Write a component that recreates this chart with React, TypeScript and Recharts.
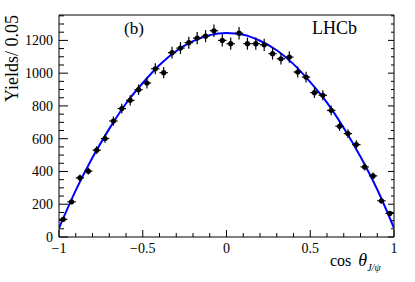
import React from 'react';
import {
  ComposedChart,
  Line,
  Scatter,
  ErrorBar,
  XAxis,
  YAxis,
} from 'recharts';

// bin centres of cos(theta_J/psi), bin width 0.05
const binCenters = [
  -0.975, -0.925, -0.875, -0.825, -0.775, -0.725, -0.675, -0.625, -0.575, -0.525,
  -0.475, -0.425, -0.375, -0.325, -0.275, -0.225, -0.175, -0.125, -0.075, -0.025,
  0.025, 0.075, 0.125, 0.175, 0.225, 0.275, 0.325, 0.375, 0.425, 0.475,
  0.525, 0.575, 0.625, 0.675, 0.725, 0.775, 0.825, 0.875, 0.925, 0.975,
];
const yields = [
  108, 215, 361, 402, 530, 601, 708, 784, 834, 899,
  940, 1027, 1003, 1125, 1153, 1186, 1214, 1226, 1259, 1200,
  1180, 1244, 1180, 1180, 1173, 1119, 1088, 1098, 1007, 976,
  881, 865, 773, 676, 631, 564, 428, 373, 221, 144,
];
const yieldErrors = [
  12, 16, 20, 21, 24, 26, 28, 30, 31, 32,
  33, 34, 34, 36, 36, 37, 37, 37, 38, 37,
  37, 38, 37, 37, 37, 36, 35, 35, 34, 33,
  32, 31, 30, 28, 27, 26, 22, 21, 16, 13,
];
const halfBin = 0.025;

// fit curve
const fitX = [-1, -0.9, -0.8, -0.7, -0.6, -0.5, -0.4, -0.3, -0.2, -0.1, 0, 0.1, 0.2, 0.3, 0.4, 0.5, 0.6, 0.7, 0.8, 0.9, 1];
const fitY = [55, 285, 485, 660, 815, 940, 1050, 1135, 1195, 1232, 1245, 1235, 1198, 1140, 1055, 945, 820, 665, 490, 290, 55];

const xMajorTicks = [-1, -0.5, 0, 0.5, 1];
const xTickLabels = ['\u22121', '\u22120.5', '0', '0.5', '1'];
const xAllTicks = [-1, -0.9, -0.8, -0.7, -0.6, -0.5, -0.4, -0.3, -0.2, -0.1, 0, 0.1, 0.2, 0.3, 0.4, 0.5, 0.6, 0.7, 0.8, 0.9, 1];
const yMajorTicks = [0, 200, 400, 600, 800, 1000, 1200];
const yAllTicks = [
  0, 50, 100, 150, 200, 250, 300, 350, 400, 450, 500, 550, 600, 650, 700,
  750, 800, 850, 900, 950, 1000, 1050, 1100, 1150, 1200, 1250, 1300, 1350,
];

const points = binCenters.map((x, i) => ({ x, y: yields[i], ey: yieldErrors[i], ex: halfBin }));
const fitData = fitX.map((x, i) => ({ x, y: fitY[i] }));

const FONT = '"Liberation Serif", "Times New Roman", serif';

const isXMajor = (v: number) => xMajorTicks.some((m) => Math.abs(m - v) < 1e-6);
const isYMajor = (v: number) => yMajorTicks.includes(v);

const BottomTick = (props: any) => {
  const { x, y, payload } = props;
  const major = isXMajor(payload.value);
  const idx = xMajorTicks.findIndex((m) => Math.abs(m - payload.value) < 1e-6);
  return (
    <g>
      <line x1={x} x2={x} y1={y} y2={y - (major ? 7 : 4)} stroke="#000" />
      {major && (
        <text x={x} y={y + 16} textAnchor="middle" fontSize={14} fontFamily={FONT} fill="#000">
          {xTickLabels[idx]}
        </text>
      )}
    </g>
  );
};

const TopTick = (props: any) => {
  const { x, y, payload } = props;
  const major = isXMajor(payload.value);
  return <line x1={x} x2={x} y1={y} y2={y + (major ? 6 : 3)} stroke="#000" />;
};

const LeftTick = (props: any) => {
  const { x, y, payload } = props;
  const major = isYMajor(payload.value);
  return (
    <g>
      <line x1={x} x2={x + (major ? 9 : 5)} y1={y} y2={y} stroke="#000" />
      {major && (
        <text x={x - 6} y={y + 5} textAnchor="end" fontSize={14} fontFamily={FONT} fill="#000">
          {payload.value}
        </text>
      )}
    </g>
  );
};

const RightTick = (props: any) => {
  const { x, y, payload } = props;
  const major = isYMajor(payload.value);
  return <line x1={x} x2={x - (major ? 6 : 3)} y1={y} y2={y} stroke="#000" />;
};

const Dot = (props: any) => <circle cx={props.cx} cy={props.cy} r={2.6} fill="#000" />;

export default function App() {
  return (
    <div style={{ position: 'absolute', left: 0, top: 0, width: 415, height: 282, background: '#fff' }}>
      <ComposedChart width={415} height={282} margin={{ top: 0, right: 0, bottom: 0, left: 0 }}>
        <XAxis
          xAxisId="b"
          dataKey="x"
          type="number"
          domain={[-1, 1]}
          allowDataOverflow
          ticks={xAllTicks}
          interval={0}
          height={45}
          tickSize={0}
          tickMargin={0}
          tickLine={false}
          tick={BottomTick}
          axisLine={{ stroke: '#000' }}
        />
        <XAxis
          xAxisId="t"
          orientation="top"
          type="number"
          domain={[-1, 1]}
          allowDataOverflow
          ticks={xAllTicks}
          interval={0}
          height={15}
          tickSize={0}
          tickMargin={0}
          tickLine={false}
          tick={TopTick}
          axisLine={{ stroke: '#000' }}
        />
        <YAxis
          yAxisId="l"
          type="number"
          domain={[0, 1355]}
          allowDataOverflow
          ticks={yAllTicks}
          interval={0}
          width={59}
          tickSize={0}
          tickMargin={0}
          tickLine={false}
          tick={LeftTick}
          axisLine={{ stroke: '#000' }}
        />
        <YAxis
          yAxisId="r"
          orientation="right"
          type="number"
          domain={[0, 1355]}
          allowDataOverflow
          ticks={yAllTicks}
          interval={0}
          width={21}
          tickSize={0}
          tickMargin={0}
          tickLine={false}
          tick={RightTick}
          axisLine={{ stroke: '#000' }}
        />
        <Line
          xAxisId="b"
          yAxisId="l"
          data={fitData}
          dataKey="y"
          type="monotone"
          stroke="#0000ff"
          strokeWidth={2}
          dot={false}
          isAnimationActive={false}
        />
        <Scatter
          xAxisId="b"
          yAxisId="l"
          data={points}
          dataKey="y"
          shape={Dot}
          isAnimationActive={false}
        >
          <ErrorBar dataKey="ey" direction="y" width={0} stroke="#000" strokeWidth={1.2} />
          <ErrorBar dataKey="ex" direction="x" width={0} stroke="#000" strokeWidth={1.2} />
        </Scatter>
      </ComposedChart>
      <svg
        width={415}
        height={282}
        style={{ position: 'absolute', left: 0, top: 0, pointerEvents: 'none' }}
        fontFamily={FONT}
      >
        <text x={18} y={15} transform="rotate(-90 18 15)" textAnchor="end" fontSize={18} fill="#000">
          Yields/ 0.05
        </text>
        <text x={124} y={34} fontSize={17} fill="#000">(b)</text>
        <text x={312} y={34} fontSize={18} fill="#000">LHCb</text>
        <text x={330} y={266} fontSize={16} fill="#000">
          cos{' '}
          <tspan fontStyle="italic" fontSize={18} dx={3}>θ</tspan>
          <tspan fontStyle="italic" fontSize={10} dy={5}>J/ψ</tspan>
        </text>
      </svg>
    </div>
  );
}
